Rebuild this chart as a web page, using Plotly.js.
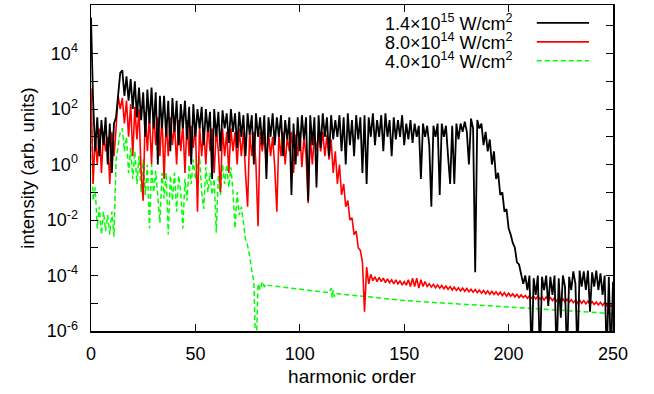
<!DOCTYPE html>
<html>
<head>
<meta charset="utf-8">
<script src="https://cdn.plot.ly/plotly-3.0.1.min.js"></script>
<style>html,body{margin:0;padding:0;background:#fff;}#chart{width:654px;height:394px;}</style>
</head>
<body>
<div id="chart"></div>
<script>
// Series names (legend)
const seriesNames = ["1.4×10<sup>15</sup> W/cm<sup>2</sup>", "8.0×10<sup>14</sup> W/cm<sup>2</sup>", "4.0×10<sup>14</sup> W/cm<sup>2</sup>"];

// 1.4e15 W/cm2 : intensity at harmonic orders 0,1,2,...,250
const intensityHigh = [
2e5,2e2,3,50,2,40,5,50,1,30,
0.5,30,50,300,2000,2500,300,1500,200,1200,
100,1000,50,600,40,400,10,500,30,600,
20,400,1,300,20,300,10,200,3,250,
15,200,5,150,20,200,8,120,1,150,
10,100,20,120,5,100,15,80,0.3,100,
10,80,3,90,20,70,6,100,15,70,
4,80,10,60,2,70,12,60,1,70,
10,50,5,60,0.3,50,10,70,5,50,
10,60,2,40,8,50,0.08,30,1,50,
3,60,8,50,0.05,60,5,50,0.15,60,
4,70,10,50,2,60,8,40,10,60,
3,50,1,70,5,40,2,60,8,50,
0.5,60,0.2,50,10,70,5,40,10,60,
3,70,10,40,2,50,8,40,10,60,
5,30,8,40,6,30,10,25,0.3,30,
10,25,5,0.03,25,10,30,0.08,30,10,
25,2,0.2,25,0.2,30,8,30,15,35,
15,1,45,20,1.3e-4,40,20,30,5,15,
3,8,1,3,0.3,0.5,0.08,0.1,0.02,0.025,
5e-3,3e-3,1.5e-3,1e-3,3e-4,2.5e-4,1e-4,5e-5,1e-4,3e-5,
1e-4,1e-7,8e-5,2e-5,1e-4,1e-7,9e-5,3e-5,1e-4,8e-6,
9e-5,2e-5,1e-4,1e-7,8e-5,3e-6,1e-4,4e-5,1e-7,9e-5,
3e-5,1.4e-4,5e-5,1e-7,1.5e-4,4e-5,1.4e-4,3e-5,1.5e-4,5e-6,
1.3e-4,4e-5,1.5e-4,3e-5,1.2e-4,2e-5,1e-4,1e-7,9e-5,1e-7,
6e-5
];

// 8.0e14 W/cm2 : intensity at harmonic orders 0,1,2,...,250
const intensityMid = [
550,0.2,10,1,20,0.5,15,3,10,0.2,
15,2,20,300,100,250,30,200,10,150,
2,120,8,100,0.5,0.05,80,3,60,1,
80,5,50,2,60,0.3,40,2,50,5,
30,1,40,3,30,0.5,40,2,25,4,
30,0.02,25,2,20,1,30,3,20,0.5,
20,3,0.1,20,2,15,0.5,20,3,15,
1,20,2,15,0.5,0.03,15,2,15,1,
6e-3,15,3,12,1,15,2,10,0.8,0.02,
12,2,15,1,10,3,15,0.5,12,2,
15,0.8,10,2,0.04,10,1,12,3,15,
3,15,2,12,1.5,8,0.5,3,0.2,1,
0.08,0.2,0.03,0.05,0.01,0.012,3e-3,4e-3,1e-3,8e-4,
3e-4,5e-6,2e-4,5e-5,1.1e-4,6.5e-5,9e-5,6e-5,8.5e-5,6e-5,
8e-5,5.5e-5,7.5e-5,5.5e-5,7e-5,5e-5,7e-5,5e-5,6.5e-5,4.5e-5,
6e-5,4.5e-5,7e-5,4e-5,8e-5,4e-5,8e-5,3.5e-5,7e-5,4e-5,
6e-5,4e-5,5e-5,3.8e-5,4.8e-5,3.6e-5,4.6e-5,3.5e-5,4.4e-5,3.3e-5,
4.2e-5,3.2e-5,4e-5,3e-5,3.8e-5,2.9e-5,3.6e-5,2.8e-5,3.5e-5,2.7e-5,
3.4e-5,2.6e-5,3.2e-5,2.5e-5,3.1e-5,2.4e-5,3e-5,2.3e-5,2.9e-5,2.2e-5,
2.8e-5,2.1e-5,2.7e-5,2.1e-5,2.6e-5,2e-5,2.5e-5,1.9e-5,2.4e-5,1.8e-5,
2.3e-5,1.8e-5,2.2e-5,1.7e-5,2.1e-5,1.6e-5,2e-5,1.6e-5,1.9e-5,1.5e-5,
1.9e-5,1.5e-5,1.8e-5,1.4e-5,1.8e-5,1.4e-5,1.7e-5,1.3e-5,1.7e-5,1.3e-5,
1.6e-5,1.25e-5,1.55e-5,1.2e-5,1.5e-5,1.15e-5,1.45e-5,1.1e-5,1.4e-5,1.1e-5,
1.35e-5,1.05e-5,1.3e-5,1e-5,1.3e-5,1e-5,1.25e-5,9.5e-6,1.2e-5,9.2e-6,
1.15e-5,9e-6,1.1e-5,8.7e-6,1.08e-5,8.4e-6,1.05e-5,8.2e-6,1e-5,7.8e-6,
9.5e-6
];

// 4.0e14 W/cm2 : harmonic orders and intensity
const orderLow = [
0,1,2,3,4,5,6,7,8,9,
10,11,12,13,14,15,16,17,18,19,
20,21,22,23,24,25,26,27,28,29,
30,31,32,33,34,35,36,37,38,39,
40,41,42,43,44,45,46,47,48,49,
50,51,52,53,54,55,56,57,58,59,
60,61,62,63,64,65,66,67,68,69,
70,71,72,73,74,75,76,77,78,79,
80,81,82,83,84,85,90,95,100,105,
110,114,115,115.5,116,116.5,117,120,130,140,
150,175,200,225,250
];
const intensityLow = [
240,0.05,0.15,5e-3,0.03,3e-3,0.02,4e-3,0.015,3e-3,
0.02,2.5e-3,1.5,5,15,20,3,10,0.5,4,
0.3,3,0.2,2,0.1,1.5,0.08,1,5e-3,1,
0.1,0.6,0.05,8e-3,0.5,0.06,0.5,3e-3,0.4,0.05,
0.5,0.02,0.4,0.1,5e-3,0.3,0.05,1,0.2,1.5,
0.3,1,2,0.1,0.025,0.8,0.1,0.5,0.08,0.3,
3.5e-3,0.4,0.08,1,0.2,1,0.15,0.8,0.1,5e-3,
0.1,0.015,0.03,8e-3,2e-3,1.2e-3,5e-4,1.5e-4,6e-5,1e-7,
5e-5,3e-5,6e-5,4e-5,5e-5,4.4e-5,4e-5,3.6e-5,3.3e-5,3e-5,
2.6e-5,2.4e-5,3.5e-5,1.6e-5,3e-5,1.7e-5,2.3e-5,2.1e-5,1.8e-5,1.5e-5,
1.25e-5,9.5e-6,7.5e-6,5.6e-6,4.2e-6
];

const xTicks = [0, 50, 100, 150, 200, 250];
const yTickVals = [1e-6, 1e-4, 1e-2, 1, 1e2, 1e4];
const yTickText = ["10<sup>-6</sup>", "10<sup>-4</sup>", "10<sup>-2</sup>", "10<sup>0</sup>", "10<sup>2</sup>", "10<sup>4</sup>"];
const yMinorVals = [1e-5, 1e-3, 1e-1, 1e1, 1e3, 1e5];

const orderHigh = intensityHigh.map((_, i) => i);
const orderMid = intensityMid.map((_, i) => i);

const colors = ["#000000", "#ff0000", "#00ff00"];
const FONT = "Liberation Sans, Arial, Helvetica, sans-serif";

const traces = [
  {x: orderLow, y: intensityLow, type: "scatter", mode: "lines", name: seriesNames[2],
   line: {color: colors[2], width: 1.5, dash: "5px,3px"}},
  {x: orderMid, y: intensityMid, type: "scatter", mode: "lines", name: seriesNames[1],
   line: {color: colors[1], width: 1.6}},
  {x: orderHigh, y: intensityHigh, type: "scatter", mode: "lines", name: seriesNames[0],
   line: {color: colors[0], width: 1.8}}
];

// gnuplot-style key: text right-aligned, sample line to the right
const keyRows = [0.945, 0.887, 0.829];
const annotations = [];
const shapes = [];
for (let k = 0; k < 3; k++) {
  annotations.push({xref: "paper", yref: "paper", x: 0.812, y: keyRows[k], xanchor: "right", yanchor: "middle",
    text: seriesNames[k], showarrow: false, font: {family: FONT, size: 18, color: "#000"}});
  shapes.push({type: "line", xref: "paper", yref: "paper", x0: 0.854, x1: 0.954, y0: keyRows[k], y1: keyRows[k],
    line: {color: colors[k], width: k === 0 ? 1.8 : 1.6, dash: k === 2 ? "5px,3px" : "solid"}});
}

const layout = {
  width: 654, height: 394,
  margin: {l: 91, r: 41, t: 5, b: 63},
  paper_bgcolor: "#fff", plot_bgcolor: "#fff",
  showlegend: false,
  font: {family: FONT, size: 18, color: "#000"},
  xaxis: {
    range: [0, 250], tickmode: "array", tickvals: xTicks, ticks: "inside", ticklen: 7, tickwidth: 1, tickcolor: "#000",
    showline: true, linecolor: "#000", linewidth: 1.5, mirror: "ticks", showgrid: false, zeroline: false,
    tickfont: {family: FONT, size: 18, color: "#000"}, ticklabelstandoff: 6,
    title: {text: "harmonic order", font: {family: FONT, size: 19, color: "#000"}, standoff: 6}
  },
  yaxis: {
    type: "log", range: [-6, 5.75], tickmode: "array", tickvals: yTickVals, ticktext: yTickText,
    ticks: "inside", ticklen: 7, tickwidth: 1, tickcolor: "#000",
    minor: {tickmode: "array", tickvals: yMinorVals, ticks: "inside", ticklen: 7, tickwidth: 1, tickcolor: "#000", showgrid: false},
    showline: true, linecolor: "#000", linewidth: 1.5, mirror: "ticks", showgrid: false, zeroline: false,
    tickfont: {family: FONT, size: 18, color: "#000"}, ticklabelstandoff: 8,
    title: {text: "intensity (arb. units)", font: {family: FONT, size: 18.5, color: "#000"}, standoff: 7}
  },
  annotations: annotations,
  shapes: shapes
};

Plotly.newPlot("chart", traces, layout, {displayModeBar: false, staticPlot: true});
</script>
</body>
</html>
